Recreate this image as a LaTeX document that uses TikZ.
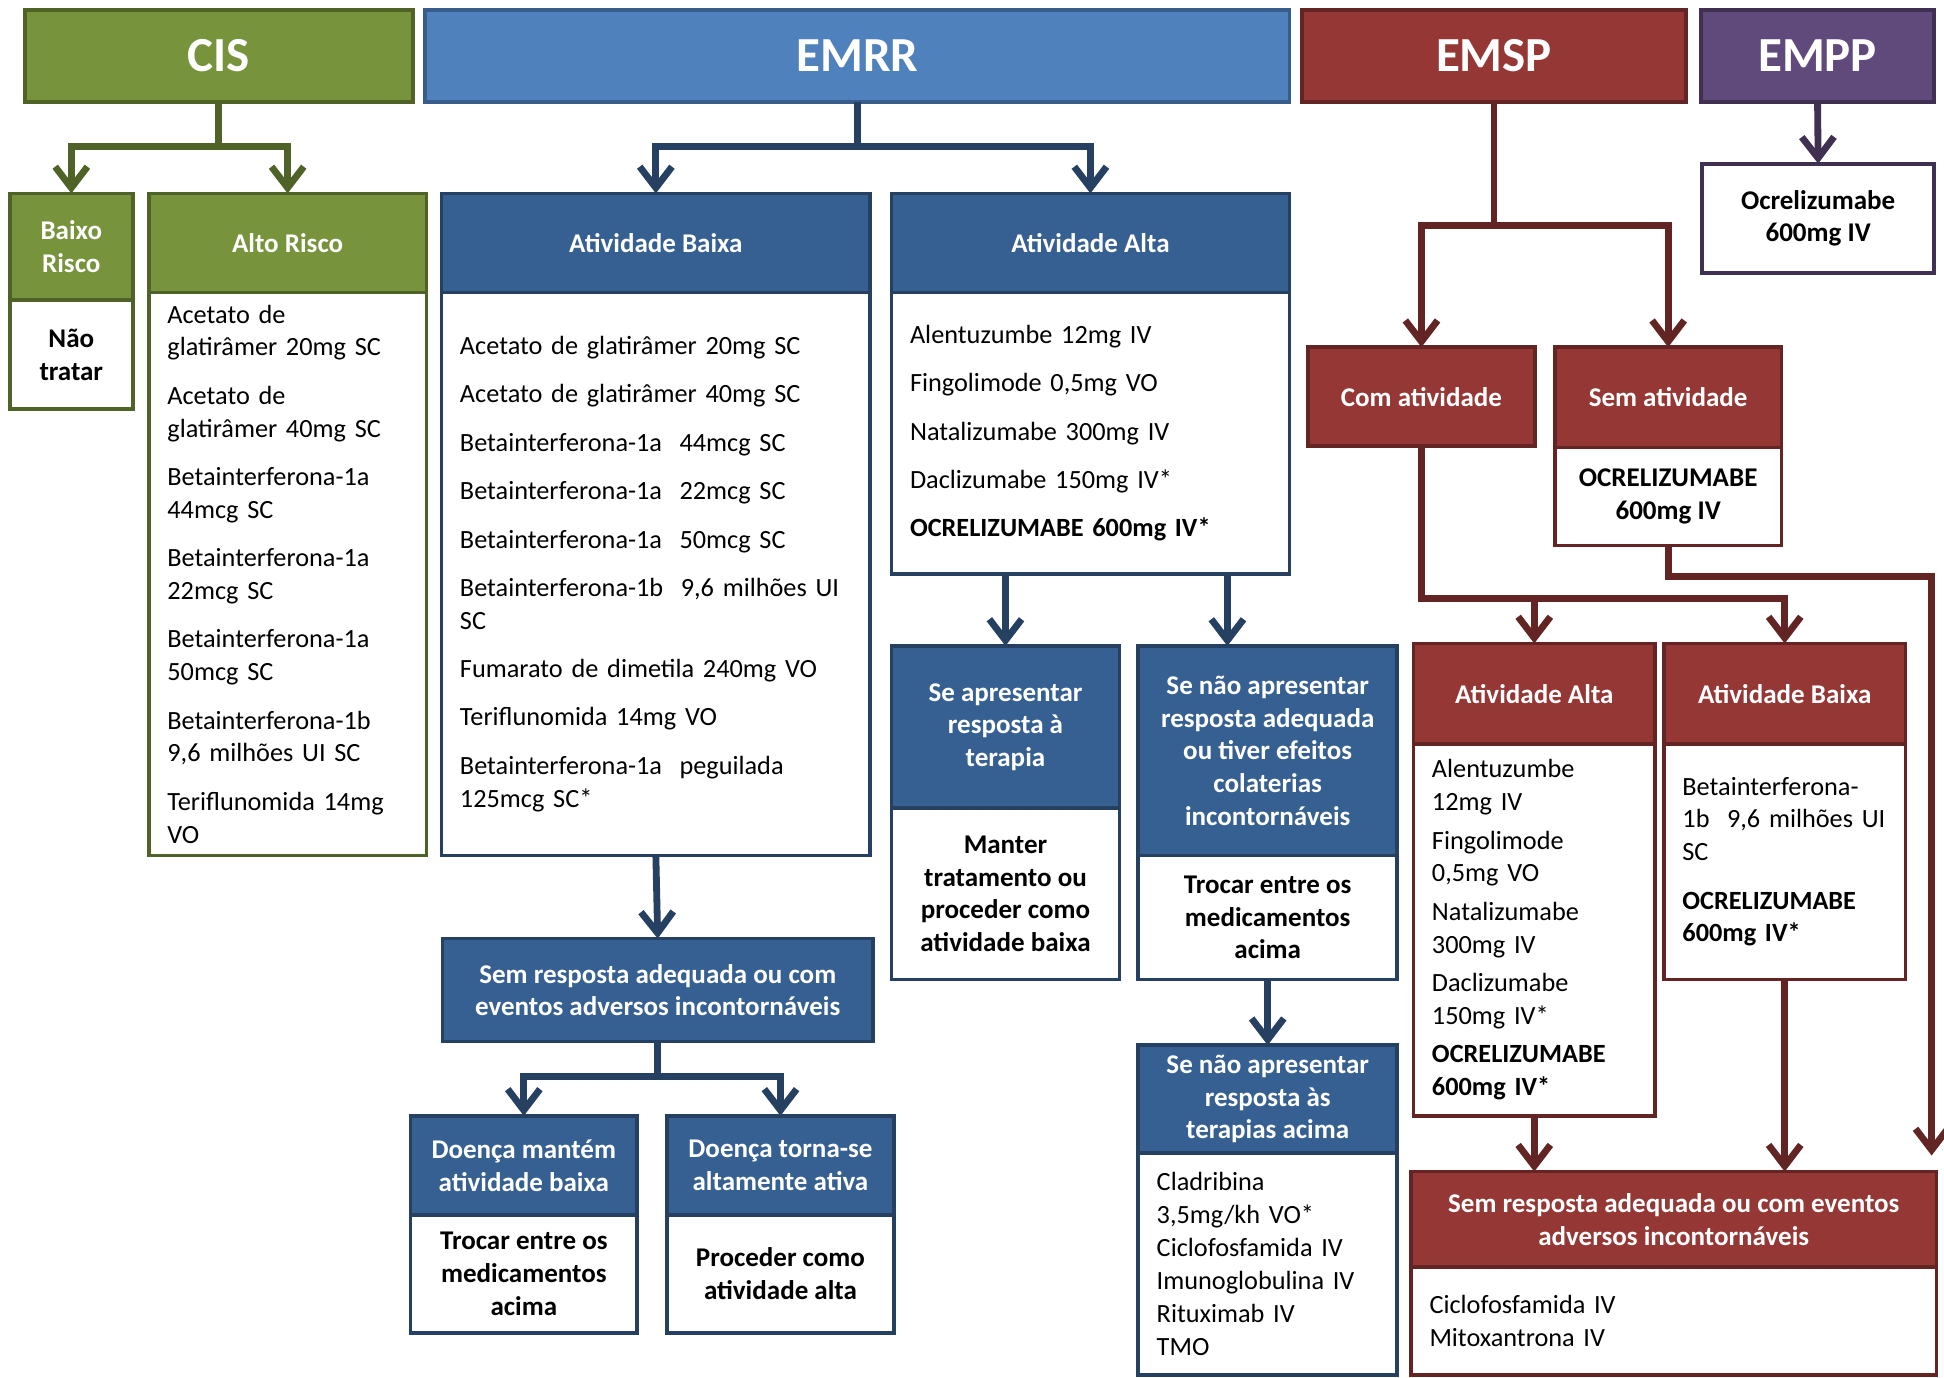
\documentclass[tikz,border=0pt]{standalone}
\usepackage{fontspec}
\setmainfont{Carlito}
\usetikzlibrary{arrows.meta,positioning,calc}
\definecolor{cisgreen}{HTML}{77933C}
\definecolor{cisdark}{HTML}{4F6228}
\definecolor{emrrblue}{HTML}{4F81BD}
\definecolor{emrrline}{HTML}{385D8A}
\definecolor{rrblue}{HTML}{376092}
\definecolor{rrdark}{HTML}{254061}
\definecolor{spred}{HTML}{953735}
\definecolor{spdark}{HTML}{632523}
\definecolor{pppurple}{HTML}{604A7B}
\definecolor{ppdark}{HTML}{403152}
\newcommand\titlefont{\fontsize{39.5}{45}\selectfont\bfseries}
\newcommand\headfont{\fontsize{21.8}{26.4}\selectfont\bfseries}
\newcommand\listfont{\fontsize{21.2}{26.5}\selectfont}

\begin{document}
\begin{tikzpicture}[x=1pt,y=-1pt,
  cell/.style={draw,rectangle,line width=3pt,inner sep=0pt,outer sep=0pt,anchor=north west,align=center},
  title/.style={cell,text=white,font=\titlefont},
  head/.style={cell,text=white,font=\headfont},
  note/.style={cell,fill=white,text=black,font=\headfont},
  drug/.style={cell,fill=white,text=black,font=\listfont,align=left,inner xsep=15pt},
  link/.style={line width=5.5pt,-{Straight Barb[length=17pt,width=26pt]}}
]
  \useasboundingbox (0,0) rectangle (1568,1111);
  % CIS
  \node[title,fill=cisgreen,draw=cisdark,minimum width=313pt,minimum height=74pt] (cis) at (20,8) {CIS};
  \node[head,fill=cisgreen,draw=cisdark,minimum width=99pt,minimum height=86pt] (baixoHdr) at (8,156) {Baixo\\Risco};
  \node[note,draw=cisdark,minimum width=99pt,minimum height=88pt] (baixoBody) at (baixoHdr.south west) {Não\\tratar};
  \node[head,fill=cisgreen,draw=cisdark,minimum width=224pt,minimum height=80pt] (altoHdr) at (120,156) {Alto Risco};
  \node[drug,draw=cisdark,text width=194pt,minimum width=224pt,minimum height=454pt] (altoBody) at (altoHdr.south west)
    {Acetato de\\glatirâmer~20mg~SC\\[12.5pt]Acetato de\\glatirâmer~40mg~SC\\[12.5pt]Betainterferona-1a\\44mcg SC\\[12.5pt]%
     Betainterferona-1a\\22mcg SC\\[12.5pt]Betainterferona-1a\\50mcg SC\\[12.5pt]Betainterferona-1b\\9,6~milhões~UI~SC\\[12.5pt]%
     Teriflunomida~14mg\\VO};
  % EMRR
  \node[title,fill=emrrblue,draw=emrrline,minimum width=697pt,minimum height=74pt] (emrr) at (343,8) {EMRR};
  \node[head,fill=rrblue,draw=rrdark,minimum width=346pt,minimum height=80pt] (baixaHdr) at (356,156) {Atividade Baixa};
  \node[drug,draw=rrdark,text width=316pt,minimum width=346pt,minimum height=454pt] (baixaBody) at (baixaHdr.south west)
    {Acetato de glatirâmer 20mg SC\\[12.5pt]Acetato de glatirâmer 40mg SC\\[12.5pt]Betainterferona-1a~~44mcg SC\\[12.5pt]%
     Betainterferona-1a~~22mcg SC\\[12.5pt]Betainterferona-1a~~50mcg SC\\[12.5pt]Betainterferona-1b~~9,6~milhões~UI\\SC\\[12.5pt]%
     Fumarato de dimetila 240mg VO\\[12.5pt]Teriflunomida 14mg VO\\[12.5pt]Betainterferona-1a~~peguilada\\125mcg SC*};
  \node[head,fill=rrblue,draw=rrdark,minimum width=321pt,minimum height=80pt] (altaHdr) at (719,156) {Atividade Alta};
  \node[drug,draw=rrdark,text width=291pt,minimum width=321pt,minimum height=227pt] (altaBody) at (altaHdr.south west)
    {Alentuzumbe 12mg IV\\[12.5pt]Fingolimode 0,5mg VO\\[12.5pt]Natalizumabe 300mg IV\\[12.5pt]Daclizumabe 150mg IV*\\[12.5pt]%
     \textbf{OCRELIZUMABE 600mg IV*}};
  \node[head,fill=rrblue,draw=rrdark,minimum width=184pt,minimum height=131pt] (respHdr) at (719,521) {Se apresentar\\resposta à\\terapia};
  \node[note,draw=rrdark,minimum width=184pt,minimum height=138pt] (respBody) at (respHdr.south west) {Manter\\tratamento ou\\proceder como\\atividade baixa};
  \node[head,fill=rrblue,draw=rrdark,minimum width=209pt,minimum height=169pt] (naoHdr) at (918,521)
    {Se não apresentar\\resposta adequada\\ou tiver efeitos\\colaterias\\incontornáveis};
  \node[note,draw=rrdark,minimum width=209pt,minimum height=100pt] (naoBody) at (naoHdr.south west) {Trocar entre os\\medicamentos\\acima};
  \node[head,fill=rrblue,draw=rrdark,minimum width=209pt,minimum height=87pt] (terHdr) at (918,843) {Se não apresentar\\resposta às\\terapias acima};
  \node[drug,draw=rrdark,text width=179pt,minimum width=209pt,minimum height=179pt] (terBody) at (terHdr.south west)
    {Cladribina\\3,5mg/kh VO*\\Ciclofosfamida IV\\Imunoglobulina IV\\Rituximab IV\\TMO};
  \node[head,fill=rrblue,draw=rrdark,minimum width=347pt,minimum height=83pt] (semBaixa) at (357,757)
    {Sem resposta adequada ou com\\eventos adversos incontornáveis};
  \node[head,fill=rrblue,draw=rrdark,minimum width=183pt,minimum height=80pt] (mantemHdr) at (331,900) {Doença mantém\\atividade baixa};
  \node[note,draw=rrdark,minimum width=183pt,minimum height=95pt] (mantemBody) at (mantemHdr.south west) {Trocar entre os\\medicamentos\\acima};
  \node[head,fill=rrblue,draw=rrdark,minimum width=183pt,minimum height=80pt] (tornaHdr) at (538,900) {Doença torna-se\\altamente ativa};
  \node[note,draw=rrdark,minimum width=183pt,minimum height=95pt] (tornaBody) at (tornaHdr.south west) {Proceder como\\atividade alta};
  % EMSP
  \node[title,fill=spred,draw=spdark,minimum width=310pt,minimum height=74pt] (emsp) at (1050,8) {EMSP};
  \node[head,fill=spred,draw=spdark,minimum width=183pt,minimum height=80pt] (comHdr) at (1055,280) {Com atividade};
  \node[head,fill=spred,draw=spdark,minimum width=183pt,minimum height=81pt] (semHdr) at (1254,280) {Sem atividade};
  \node[note,draw=spdark,minimum width=183pt,minimum height=79pt] (semBody) at (semHdr.south west) {OCRELIZUMABE\\600mg IV};
  \node[head,fill=spred,draw=spdark,minimum width=195pt,minimum height=81pt] (eAltaHdr) at (1140,519) {Atividade Alta};
  \node[drug,draw=spdark,text width=165pt,minimum width=195pt,minimum height=300pt] (eAltaBody) at (eAltaHdr.south west)
    {Alentuzumbe\\12mg IV\\[4.5pt]Fingolimode\\0,5mg VO\\[4.5pt]Natalizumabe\\300mg IV\\[4.5pt]Daclizumabe\\150mg IV*\\[4.5pt]%
     \textbf{OCRELIZUMABE}\\\textbf{600mg IV*}};
  \node[head,fill=spred,draw=spdark,minimum width=195pt,minimum height=81pt] (eBaixaHdr) at (1342,519) {Atividade Baixa};
  \node[drug,draw=spdark,text width=165pt,minimum width=195pt,minimum height=190pt] (eBaixaBody) at (eBaixaHdr.south west)
    {Betainterferona-\\1b~~9,6~milhões~UI\\SC\\[12.5pt]\textbf{OCRELIZUMABE}\\\textbf{600mg IV*}};
  \node[head,fill=spred,draw=spdark,minimum width=424pt,minimum height=77pt] (eSemHdr) at (1138,945)
    {Sem resposta adequada ou com eventos\\adversos incontornáveis};
  \node[drug,draw=spdark,text width=394pt,minimum width=424pt,minimum height=87pt] (eSemBody) at (eSemHdr.south west)
    {Ciclofosfamida IV\\Mitoxantrona IV};
  % EMPP
  \node[title,fill=pppurple,draw=ppdark,minimum width=188pt,minimum height=74pt] (empp) at (1372,8) {EMPP};
  \node[note,draw=ppdark,minimum width=187pt,minimum height=88pt] (emppBody) at (1373,132) {Ocrelizumabe\\600mg IV};
  % Arrows
  \draw[link,cisdark] (cis.south) -- ++(0,36) -| (baixoHdr.north);
  \draw[link,cisdark] (cis.south) -- ++(0,36) -| (altoHdr.north);
  \draw[link,rrdark] (emrr.south) -- ++(0,36) -| (baixaHdr.north);
  \draw[link,rrdark] (emrr.south) -- ++(0,36) -| (altaHdr.north);
  \draw[link,rrdark] (altaBody.south -| respHdr.north) -- (respHdr.north);
  \coordinate (naoIn) at ($(naoHdr.north west)+(72,0)$);
  \draw[link,rrdark] (altaBody.south -| naoIn) -- (naoIn);
  \draw[link,rrdark] (naoBody.south) -- (terHdr.north);
  \draw[link,rrdark] (baixaBody.south) -- (semBaixa.north);
  \draw[link,rrdark] (semBaixa.south) -- ++(0,28) -| (mantemHdr.north);
  \draw[link,rrdark] (semBaixa.south) -- ++(0,28) -| (tornaHdr.north);
  \draw[link,spdark] (emsp.south) -- ++(0,100) -| (comHdr.north);
  \draw[link,spdark] (emsp.south) -- ++(0,100) -| (semHdr.north);
  \draw[link,spdark] (comHdr.south) -- ++(0,123) -| (eAltaHdr.north);
  \draw[link,spdark] (comHdr.south) -- ++(0,123) -| (eBaixaHdr.north);
  \coordinate (spEnd) at ($(eSemHdr.north east)+(-4,-13)$);
  \draw[link,spdark] (semBody.south) -- ++(0,25) -| (spEnd);
  \draw[link,spdark] (eAltaBody.south) -- (eAltaBody.south |- eSemHdr.north);
  \draw[link,spdark] (eBaixaBody.south) -- (eBaixaBody.south |- eSemHdr.north);
  \draw[link,ppdark] (empp.south) -- (emppBody.north);
\end{tikzpicture}
\end{document}
